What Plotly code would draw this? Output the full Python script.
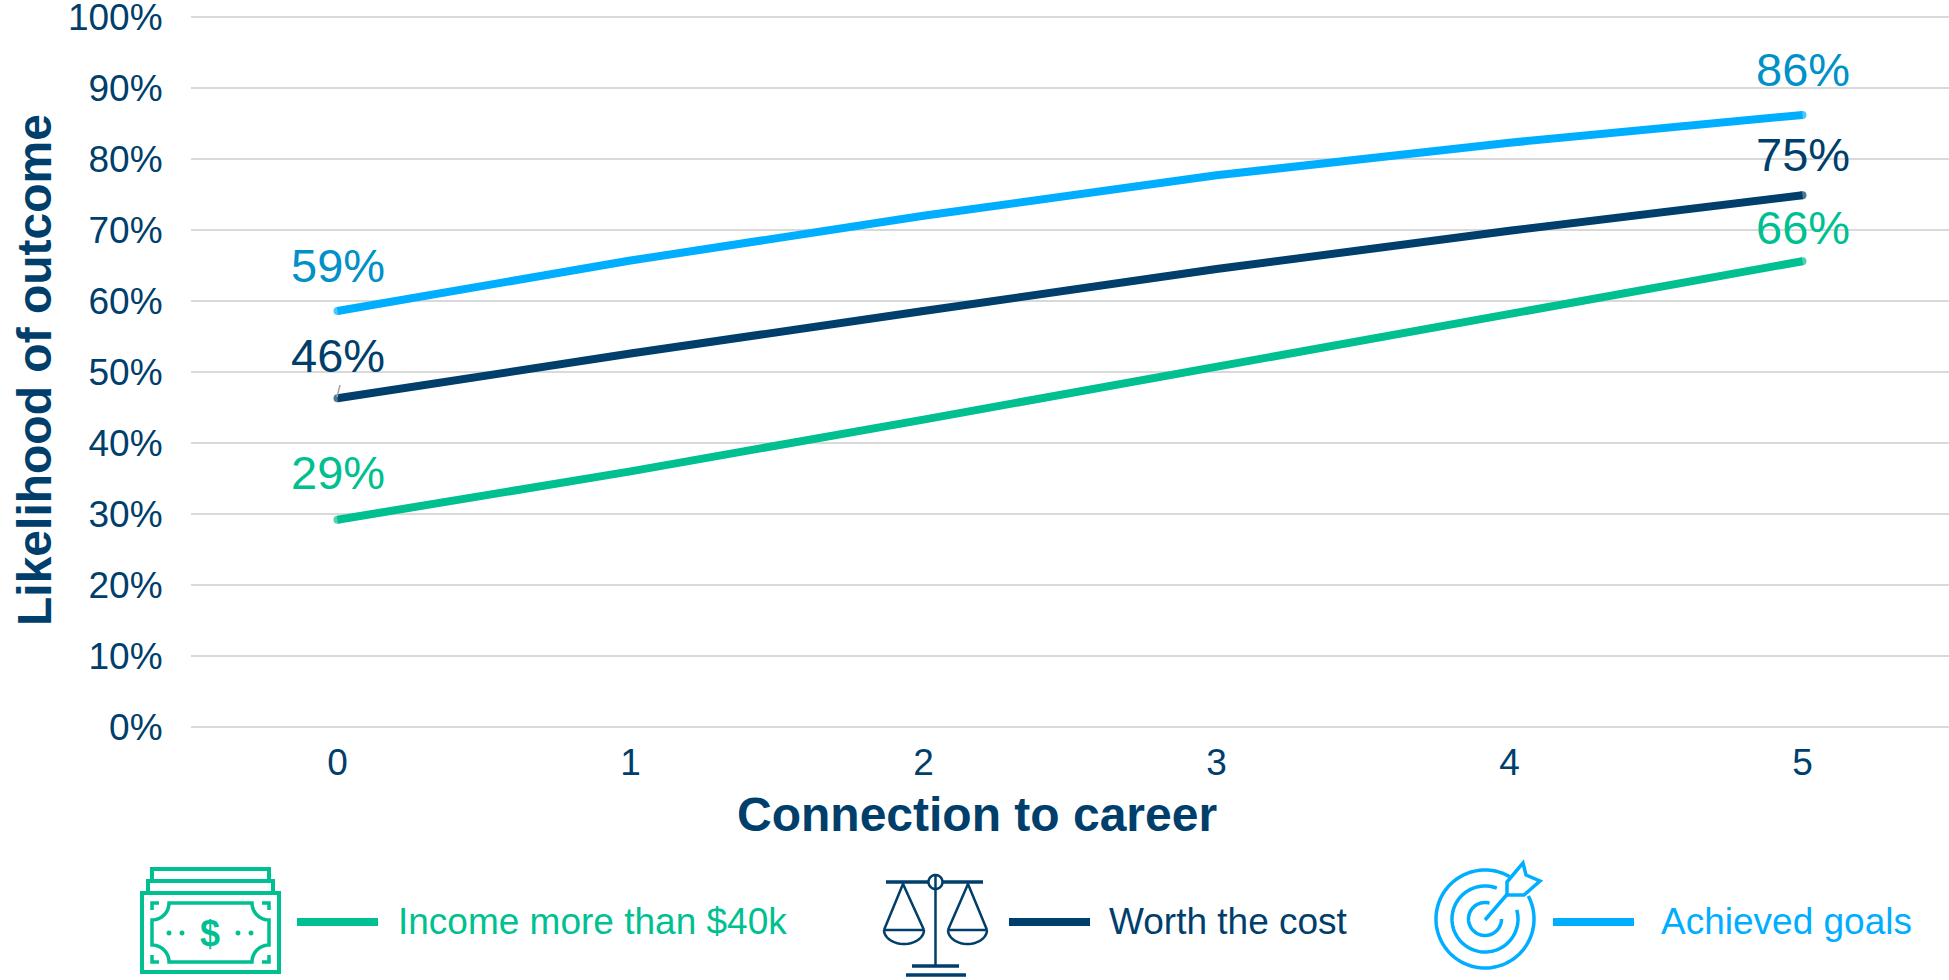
import numpy as np
import plotly.graph_objects as go

connection = [0, 1, 2, 3, 4, 5]
income = [29.2, 36.0, 43.3, 50.7, 58.3, 65.6]
worth = [46.3, 52.6, 58.6, 64.5, 69.9, 74.9]
goals = [58.6, 65.7, 72.0, 77.7, 82.3, 86.2]
series_names = ["Income more than $40k", "Worth the cost", "Achieved goals"]
y_ticks = [0, 10, 20, 30, 40, 50, 60, 70, 80, 90, 100]

GREEN, NAVY, BLUE, BLUE_LABEL, GRID = "#00BF91", "#003E6B", "#00AEFF", "#0091C8", "#D9D9D9"
FONT = "Liberation Sans"
W, H, L, R_PX = 1949, 980, 191, 1949
PAD = 4                 # extra room so the 0% and 100% gridlines survive at the axis ends
T, B_PX = 17 - PAD, 727 + PAD
Y_PAD = PAD / 7.1


def px(x, y):
    return (x - L) / (R_PX - L), (B_PX - y) / (B_PX - T)


def poly(points, close=False):
    parts = []
    for i, (x, y) in enumerate(points):
        a, b = px(x, y)
        parts.append(f"{'M' if i == 0 else 'L'}{a:.5f},{b:.5f}")
    return " ".join(parts) + (" Z" if close else "")


def arc(cx, cy, r, a0, a1, n=60, ry=None):
    ry = r if ry is None else ry
    t = np.radians(np.linspace(a0, a1, n))
    return list(zip(cx + r * np.cos(t), cy - ry * np.sin(t)))


shapes = []


def add(points, color, width=3, close=False, fill=None):
    shapes.append(dict(type="path", xref="paper", yref="paper", path=poly(points, close),
                       line=dict(color=color, width=width),
                       fillcolor=fill if fill else "rgba(0,0,0,0)", layer="above"))


fig = go.Figure()
for name, vals, col in zip(series_names, [income, worth, goals], [GREEN, NAVY, BLUE]):
    fig.add_trace(go.Scatter(x=connection, y=vals, name=name, mode="lines+markers",
                             line=dict(color=col, width=8),
                             marker=dict(color=col, size=[8, 0, 0, 0, 0, 8], line=dict(width=0)),
                             showlegend=False))

anns = []


def label(x, y, color, shift):
    anns.append(dict(x=x, y=y, xref="x", yref="y", text=f"{round(y)}%", showarrow=False,
                     yshift=shift, font=dict(family=FONT, size=47, color=color),
                     xanchor="center", yanchor="middle"))


label(connection[0], goals[0], BLUE_LABEL, 45)
label(connection[0], worth[0], NAVY, 43)
label(connection[0], income[0], GREEN, 47)
label(connection[-1], goals[-1], BLUE_LABEL, 45)
label(connection[-1], worth[-1], NAVY, 41)
label(connection[-1], income[-1], GREEN, 34)


def text_px(x, y, text, color, size, bold=False, anchor="left", angle=0):
    a, b = px(x, y)
    anns.append(dict(x=a, y=b, xref="paper", yref="paper", text=f"<b>{text}</b>" if bold else text,
                     showarrow=False, textangle=angle, xanchor=anchor, yanchor="middle",
                     font=dict(family=FONT, size=size, color=color)))


text_px(977, 814, "Connection to career", NAVY, 48, bold=True, anchor="center")
text_px(34, 370, "Likelihood of outcome", NAVY, 48, bold=True, anchor="center", angle=-90)

# legend rows
for (x0, x1, tx, size, name, col) in [(297, 378, 396, 37, series_names[0], GREEN),
                                      (1009, 1090, 1107, 37, series_names[1], NAVY),
                                      (1553, 1634, 1659, 37, series_names[2], BLUE)]:
    add([(x0, 922), (x1, 922)], col, width=8)
    text_px(tx, 921, name, col, size)

# leader line beside the 46% label
add([(340, 385), (337, 397)], "#A6A6A6", width=1.5)

# money icon
add([(142, 893), (279, 893), (279, 972), (142, 972)], GREEN, 4, close=True)
add([(148, 893), (148, 881), (273, 881), (273, 893)], GREEN, 4)
add([(152, 881), (152, 869), (269, 869), (269, 881)], GREEN, 4)
pts = []
pts += arc(152, 903, 17, 0, -90, 14)
pts += arc(152, 962, 17, 90, 0, 14)
pts += arc(269, 962, 17, 180, 90, 14)
pts += arc(269, 903, 17, 270, 180, 14)
add(pts, GREEN, 3.5, close=True)
for (x, y, dx, dy) in [(152, 903, 1, 1), (269, 903, -1, 1), (152, 962, 1, -1), (269, 962, -1, -1)]:
    add([(x, y + dy * 7), (x, y), (x + dx * 7, y)], GREEN, 3.5)
for x in [169, 182, 238, 251]:
    add(arc(x, 933, 1.5, 0, 360, 10), GREEN, 2, close=True, fill=GREEN)
text_px(210, 933, "$", GREEN, 36, bold=True, anchor="center")

# scales icon
add([(886, 882), (983, 882)], NAVY, 3.5)
add(arc(935.5, 882, 7, 0, 360, 30), NAVY, 2.5, close=True, fill="white")
add([(935.5, 875), (935.5, 966)], NAVY, 2.5)
add([(912, 966), (959, 966)], NAVY, 3.5)
add([(906, 975), (966, 975)], NAVY, 3.5)
for apex, x0, x1 in [(903, 884, 924), (968, 948, 987)]:
    add([(x0, 930), (apex, 884), (x1, 930)], NAVY, 2.5)
    add([(x0, 930), (x1, 930)], NAVY, 2.5)
    add(arc((x0 + x1) / 2, 930, (x1 - x0) / 2, 180, 360, 24, ry=14), NAVY, 2.5)

# target icon
add(arc(1485, 919, 49, 60, 388, 110), BLUE, 3.5)
add(arc(1485, 919, 33, 69, 376, 90), BLUE, 3.5)
add(arc(1485, 919, 16.5, 74, 360, 50), BLUE, 3.5)
add([(1485, 920), (1510, 891)], BLUE, 3.5)
add([(1507, 895), (1507, 882), (1523, 863), (1526, 875), (1540, 881), (1524, 895)], BLUE, 3.5, close=True, fill="white")

fig.update_layout(
    width=W, height=H, margin=dict(l=L, r=W - R_PX, t=T, b=H - B_PX, autoexpand=False),
    paper_bgcolor="white", plot_bgcolor="white", shapes=shapes, annotations=anns, showlegend=False,
    font=dict(family=FONT, color=NAVY),
    xaxis=dict(range=[-0.5, 5.5], tickmode="array", tickvals=connection, showgrid=False, zeroline=False,
               showline=False, ticks="outside", ticklen=1, tickcolor="rgba(0,0,0,0)", automargin=False,
               ticklabelstandoff=-2, tickfont=dict(family=FONT, size=37, color=NAVY)),
    yaxis=dict(range=[-Y_PAD, 100 + Y_PAD], tickmode="array", tickvals=y_ticks,
               ticktext=[f"{v}%" for v in y_ticks], ticklabeloverflow="allow", automargin=False,
               showgrid=True, gridcolor=GRID, gridwidth=2, zeroline=False, showline=False,
               ticks="outside", ticklen=20, tickcolor="rgba(0,0,0,0)",
               tickfont=dict(family=FONT, size=37, color=NAVY)),
)
fig.write_html("out.html", config=dict(displayModeBar=False),
               post_script="document.body.style.margin='0';document.body.style.overflow='hidden';")
